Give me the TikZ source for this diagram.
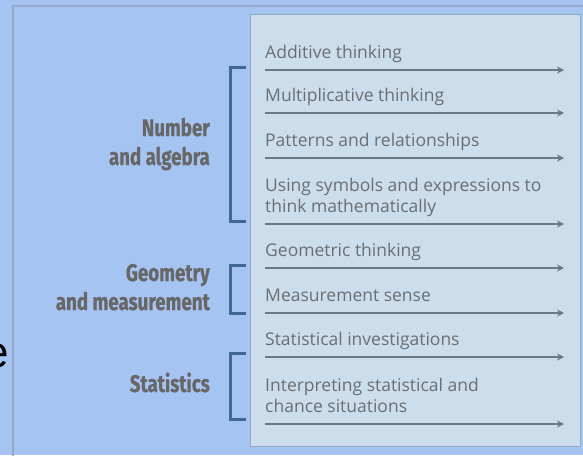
\documentclass[tikz,border=0pt]{standalone}
\usepackage{fontspec}
\setmainfont{Open Sans}
\newfontfamily\labfont[FakeStretch=0.78,FakeBold=0.6]{Fira Sans}
\newfontfamily\efont{Liberation Sans}
\usetikzlibrary{arrows.meta}
\definecolor{bg}{HTML}{A6C4F2}
\definecolor{panel}{HTML}{CCDDEB}
\definecolor{panelline}{HTML}{93A9C2}
\definecolor{framec}{HTML}{97A9C6}
\definecolor{itemtext}{HTML}{6A6F74}
\definecolor{arrowc}{HTML}{6B7885}
\definecolor{labtext}{HTML}{676767}
\definecolor{brack}{HTML}{3F6894}
\begin{document}
\begin{tikzpicture}[x=1pt,y=-1pt,
  item/.style={anchor=base west, inner sep=0pt, align=left,
    font=\fontsize{17.5}{21}\selectfont, text=itemtext},
  flow/.style={draw=arrowc, line width=2pt, -{Stealth[length=7pt,width=7pt]}},
  grp/.style={anchor=base east, inner sep=0pt, align=right,
    font=\labfont\bfseries\fontsize{24}{29}\selectfont, text=labtext},
  brk/.style={draw=brack, line width=3pt},
  frameline/.style={draw=framec, line width=2.5pt},
]
\useasboundingbox (0,0) rectangle (583,455);
\fill[bg] (0,0) rectangle (583,455);
% outer frame
\draw[frameline] (13,470) -- (13,6) -- (600,6);
% cut-off letter
\node[anchor=base east, inner sep=0pt, font=\efont\fontsize{44}{50}\selectfont, text=black] (ecut) at (9,367) {e};
% panel
\filldraw[fill=panel, draw=panelline, line width=1pt] (250.5,14.5) rectangle (580,446);

% items (base = baseline of last line)
\node[item] (i1) at (265,58) {Additive thinking};
\node[item] (i2) at (265,101) {Multiplicative thinking};
\node[item] (i3) at (265,146) {Patterns and relationships};
\node[item] (i4) at (265,212) {Using symbols and expressions to\\think mathematically};
\node[item] (i5) at (265,256) {Geometric thinking};
\node[item] (i6) at (265,301) {Measurement sense};
\node[item] (i7) at (265,345) {Statistical investigations};
\node[item] (i8) at (265,412) {Interpreting statistical and\\chance situations};

% arrows
\foreach \n/\y in {1/70,2/113,3/158,4/224,5/268,6/313,7/357,8/424}{
  \coordinate (s\n) at (265,\y);
  \coordinate (e\n) at (564,\y);
  \draw[flow] (s\n) -- (e\n);
}

% group labels
\node[grp] (gna) at (210,165) {Number\\and algebra};
\node[grp] (ggm) at (210,310) {Geometry\\and measurement};
\node[grp] (gst) at (210,392) {Statistics};

% brackets
\draw[brk] (246,67) -- (230,67) -- (230,221) -- (246,221);
\draw[brk] (246,265) -- (230,265) -- (230,313) -- (246,313);
\draw[brk] (246,353) -- (230,353) -- (230,419) -- (246,419);
\end{tikzpicture}
\end{document}
